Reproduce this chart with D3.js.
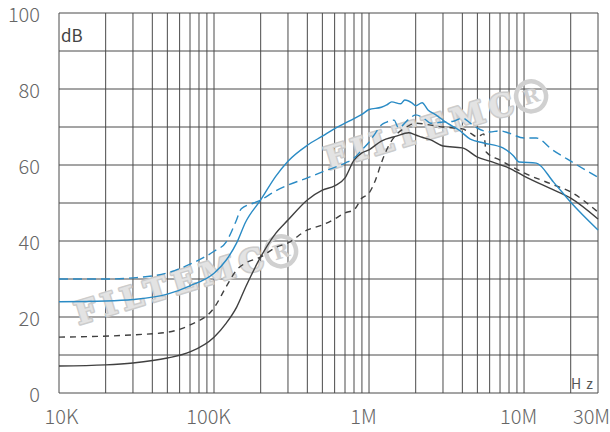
<!DOCTYPE html>
<html>
<head>
<meta charset="utf-8">
<script src="https://cdn.jsdelivr.net/npm/d3@7"></script>
<style>
  body { margin: 0; background: #fff; }
  svg { display: block; }
  .tick text { font-family: "Noto Sans CJK SC", "Noto Sans", sans-serif; font-weight: 300; fill: #666; font-size: 20px; }
</style>
</head>
<body>
<div id="chart"></div>
<script>
// tick labels
const xTicks = [1e4, 1e5, 1e6, 1e7, 3e7];
const xLabels = ["10K", "100K", "1M", "10M", "30M"];
const yTicks = [0, 20, 40, 60, 80, 100];

// series: [frequency Hz, dB]
const blueSolid = [
  [1e4, 24.0], [2e4, 24.2], [3e4, 24.6], [5e4, 26.0], [7e4, 28.2], [1e5, 31.5],
  [1.2e5, 35], [1.4e5, 39.5], [1.6e5, 45.0], [2e5, 50.8], [2.5e5, 57], [3e5, 61.0],
  [4e5, 65.2], [5e5, 67.6], [6e5, 69.6], [7e5, 71.0], [8e5, 72.2], [9e5, 73.3],
  [1e6, 74.6], [1.2e6, 75.2], [1.3e6, 75.8], [1.4e6, 76.6], [1.6e6, 76.1],
  [1.7e6, 77.1], [1.9e6, 76.3], [2e6, 75.6], [2.2e6, 76.4], [2.4e6, 74.5],
  [2.7e6, 73.2], [3.2e6, 71], [3.8e6, 69.2], [4.5e6, 66.8], [5.5e6, 65.8],
  [7.3e6, 64.5], [8.5e6, 62.5], [9.3e6, 60.8], [1.2e7, 60.5], [1.55e7, 55.5],
  [2e7, 50.2], [3e7, 42.9]
];
const blueDashed = [
  [1e4, 30], [2e4, 30], [3e4, 30.3], [5e4, 31.6], [7e4, 33.9], [1e5, 37.3],
  [1.2e5, 39.8], [1.38e5, 45], [1.5e5, 48.5], [1.8e5, 50], [2e5, 50.8],
  [2.5e5, 53.2], [3e5, 54.7], [4e5, 56.6], [5e5, 58.2], [7e5, 60.5], [8e5, 61.8],
  [9e5, 64], [1e6, 66], [1.1e6, 68.4], [1.2e6, 70.5], [1.3e6, 71.3], [1.45e6, 71.8],
  [1.55e6, 69.8], [1.8e6, 72], [2e6, 73.2], [2.3e6, 72], [2.5e6, 71], [3e6, 71.3],
  [3.5e6, 71.5], [4e6, 72.4], [4.5e6, 71], [5e6, 69.7], [6e6, 68.7], [7e6, 69],
  [8e6, 68.4], [1e7, 67.1], [1.2e7, 67.1], [1.5e7, 64.2], [2e7, 61], [3e7, 56.8]
];
const darkSolid = [
  [1e4, 7.1], [2e4, 7.4], [3e4, 7.9], [5e4, 9.2], [7e4, 10.8], [1e5, 14.7],
  [1.2e5, 18.4], [1.4e5, 22.6], [1.6e5, 27.9], [2e5, 35.8], [2.5e5, 42], [3e5, 45.5],
  [4e5, 50.8], [5e5, 53.4], [6e5, 54.5], [7e5, 56.6], [8e5, 61.3], [9e5, 63.2],
  [1e6, 64], [1.2e6, 66.3], [1.5e6, 67.6], [1.8e6, 68.5], [2e6, 67.9], [2.2e6, 67.3],
  [2.5e6, 66.6], [3e6, 65], [4e6, 64.5], [5e6, 62.1], [6e6, 61], [8e6, 59.2],
  [1e7, 57.1], [1.5e7, 53.7], [2e7, 51.3], [3e7, 45.8]
];
const darkDashed = [
  [1e4, 14.7], [3e4, 15.3], [5e4, 16], [7e4, 17.9], [1e5, 22.4], [1.2e5, 28],
  [1.4e5, 32.4], [1.6e5, 34.2], [2e5, 35.8], [2.5e5, 38.3], [3e5, 39.5], [4e5, 42.9],
  [5e5, 44.2], [6e5, 45.8], [7e5, 47.4], [8e5, 48.2], [9e5, 51.3], [1e6, 52.6],
  [1.1e6, 56], [1.2e6, 60.5], [1.3e6, 64], [1.5e6, 68], [1.7e6, 69.7], [2e6, 71],
  [2.5e6, 70.5], [3e6, 70], [4e6, 69.5], [4.5e6, 68.4], [5e6, 67.4], [5.5e6, 68.2],
  [5.7e6, 63.4], [7e6, 61.3], [1e7, 57.9], [1.5e7, 55], [2e7, 52.9], [3e7, 47.6]
];

const W = 610, H = 432;
const svg = d3.select("#chart").append("svg")
  .attr("width", W)
  .attr("height", H);

const x = d3.scaleLog().domain([1e4, 3e7]).range([59, 598]);
const y = d3.scaleLinear().domain([0, 100]).range([393, 13]);

// grid
const vLines = [];
for (let e = 4; e <= 7; e++) {
  for (let k = 1; k <= 9; k++) {
    const f = k * Math.pow(10, e);
    if (f <= 3e7) vLines.push(f);
  }
}
const grid = svg.append("g").attr("stroke", "#4a4a4a").attr("stroke-width", 1);
grid.selectAll(".v").data(vLines).enter().append("line")
  .attr("x1", d => x(d)).attr("x2", d => x(d))
  .attr("y1", y(100)).attr("y2", y(0));
grid.selectAll(".h").data(d3.range(0, 101, 10)).enter().append("line")
  .attr("x1", x(1e4)).attr("x2", x(3e7))
  .attr("y1", d => y(d)).attr("y2", d => y(d));

// watermark
const marks = [[86, 311], [336, 156]];
marks.forEach(m => {
  const g = svg.append("g")
    .attr("transform", `translate(${m[0]},${m[1]}) rotate(-17)`);
  g.append("text")
    .attr("x", -11).attr("y", 11)
    .attr("textLength", 196)
    .attr("lengthAdjust", "spacing")
    .style("font-family", "DejaVu Serif")
    .style("font-weight", "bold")
    .style("font-size", "31px")
    .style("paint-order", "stroke")
    .attr("fill", "#e3e3e3")
    .attr("stroke", "#cccccc")
    .attr("stroke-width", 3)
    .attr("stroke-linejoin", "round")
    .text("FILTEMC");
  g.append("circle")
    .attr("cx", 204).attr("cy", 0).attr("r", 15)
    .attr("fill", "none")
    .attr("stroke", "#d0d0d0")
    .attr("stroke-width", 4.5);
  g.append("text")
    .attr("x", 204).attr("y", 7)
    .attr("text-anchor", "middle")
    .style("font-family", "DejaVu Serif")
    .style("font-weight", "bold")
    .style("font-size", "20px")
    .attr("fill", "#d0d0d0")
    .text("R");
});

// curves
const line = d3.line()
  .x(d => x(d[0]))
  .y(d => y(d[1]))
  .curve(d3.curveMonotoneX);

const series = [
  { data: darkDashed, color: "#404040", dash: "6,5" },
  { data: darkSolid, color: "#404040", dash: null },
  { data: blueDashed, color: "#2a8bc5", dash: "9,5" },
  { data: blueSolid, color: "#2a8bc5", dash: null }
];
series.forEach(s => {
  svg.append("path")
    .datum(s.data)
    .attr("fill", "none")
    .attr("stroke", s.color)
    .attr("stroke-width", 1.4)
    .attr("stroke-dasharray", s.dash)
    .attr("d", line);
});

// axes
const xAxis = d3.axisBottom(x)
  .tickValues(xTicks)
  .tickFormat((d, i) => xLabels[i])
  .tickSize(0)
  .tickPadding(17);
const gx = svg.append("g")
  .attr("transform", `translate(0,${y(0)})`)
  .call(xAxis);
gx.select(".domain").remove();
const xShift = [2, -6, -6, -6, -7];
gx.selectAll(".tick text").attr("dx", (d, i) => xShift[i]);

const yAxis = d3.axisLeft(y)
  .tickValues(yTicks)
  .tickSize(0)
  .tickPadding(19);
const gy = svg.append("g")
  .attr("transform", `translate(${x(1e4)},0)`)
  .call(yAxis);
gy.select(".domain").remove();
gy.selectAll(".tick text").attr("dy", "0.4em");

// unit labels
svg.append("text")
  .attr("x", 61).attr("y", 42)
  .style("font-family", "Noto Sans CJK SC, Noto Sans, sans-serif")
  .style("font-size", "17px")
  .attr("fill", "#444")
  .text("dB");

svg.append("text")
  .attr("x", 571).attr("y", 389)
  .style("font-family", "Noto Sans CJK SC, Noto Sans, sans-serif")
  .style("font-size", "14px")
  .style("letter-spacing", "5px")
  .attr("fill", "#555")
  .text("Hz");
</script>
</body>
</html>
